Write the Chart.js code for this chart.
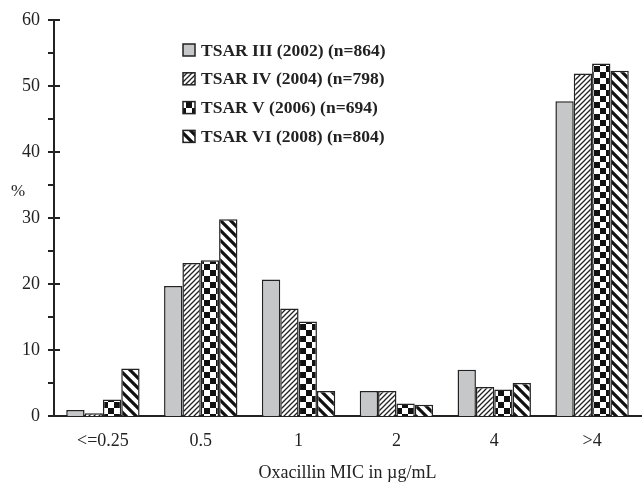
<!DOCTYPE html>
<html>
<head>
<meta charset="utf-8">
<script src="https://cdn.jsdelivr.net/npm/chart.js@4.4.0/dist/chart.umd.min.js"></script>
<style>
  html, body { margin: 0; padding: 0; background: #fff; }
  #wrap { width: 644px; height: 485px; }
</style>
</head>
<body>
<div id="wrap"><canvas id="myChart" width="644" height="485"></canvas></div>
<script>
// MIC categories and % of isolates per survey
const micLabels = ['<=0.25', '0.5', '1', '2', '4', '>4'];
const tsar3 = [0.9, 19.7, 20.7, 3.8, 7.0, 47.7];
const tsar4 = [0.4, 23.2, 16.3, 3.8, 4.4, 51.9];
const tsar5 = [2.5, 23.6, 14.3, 1.9, 4.0, 53.4];
const tsar6 = [7.2, 29.8, 3.8, 1.7, 5.0, 52.3];
const seriesNames = ['TSAR III (2002) (n=864)', 'TSAR IV (2004) (n=798)', 'TSAR V (2006) (n=694)', 'TSAR VI (2008) (n=804)'];

const serif = "'Liberation Serif', 'DejaVu Serif', serif";
const ink = '#222';

function makePattern(kind) {
    const c = document.createElement('canvas');
    const x = c.getContext('2d');
    if (kind === 'fine') {
        c.width = 5; c.height = 5;
        x.fillStyle = '#fff'; x.fillRect(0, 0, 5, 5);
        x.strokeStyle = ink; x.lineWidth = 1.3;
        x.beginPath();
        x.moveTo(-1, 6); x.lineTo(6, -1);
        x.moveTo(-1, 1); x.lineTo(1, -1);
        x.moveTo(4, 6); x.lineTo(6, 4);
        x.stroke();
    } else if (kind === 'check') {
        c.width = 12; c.height = 12;
        x.fillStyle = '#fff'; x.fillRect(0, 0, 12, 12);
        x.fillStyle = '#111';
        x.fillRect(0, 0, 6, 6); x.fillRect(6, 6, 6, 6);
    } else if (kind === 'wide') {
        c.width = 10; c.height = 10;
        x.fillStyle = '#fff'; x.fillRect(0, 0, 10, 10);
        x.strokeStyle = '#111'; x.lineWidth = 3.2;
        x.beginPath();
        x.moveTo(-2, -2); x.lineTo(12, 12);
        x.moveTo(-2, 8); x.lineTo(2, 12);
        x.moveTo(8, -2); x.lineTo(12, 2);
        x.stroke();
    }
    return x.createPattern(c, 'repeat');
}

const fills = ['#c6c7c9', makePattern('fine'), makePattern('check'), makePattern('wide')];
const seriesData = [tsar3, tsar4, tsar5, tsar6];

const datasets = seriesData.map((d, i) => ({
    label: seriesNames[i],
    data: d,
    backgroundColor: fills[i],
    borderColor: ink,
    borderWidth: 1.5,
    categoryPercentage: 0.75,
    barPercentage: 1.0
}));

// tick marks crossing the y axis, "%" label and inset legend
const decor = {
    id: 'decor',
    afterDraw(chart) {
        const ctx = chart.ctx;
        const y = chart.scales.y;
        const ax = chart.chartArea.left;
        ctx.save();
        ctx.strokeStyle = ink;
        ctx.lineWidth = 2;
        for (let v = 0; v <= 60; v += 5) {
            const py = y.getPixelForValue(v);
            ctx.beginPath();
            ctx.moveTo(ax - 6, py);
            ctx.lineTo(v % 10 === 0 ? ax + 6 : ax, py);
            ctx.stroke();
        }
        ctx.fillStyle = ink;
        ctx.font = '17px ' + serif;
        ctx.textAlign = 'center';
        ctx.textBaseline = 'middle';
        ctx.fillText('%', 18, 192);

        ctx.font = 'bold 17.5px ' + serif;
        ctx.textAlign = 'left';
        chart.data.datasets.forEach((ds, i) => {
            const ly = 50 + i * 28.8;
            ctx.fillStyle = ds.backgroundColor;
            ctx.fillRect(183, ly - 6, 12, 12);
            ctx.lineWidth = 1.5;
            ctx.strokeStyle = ink;
            ctx.strokeRect(183, ly - 6, 12, 12);
            ctx.fillStyle = ink;
            ctx.fillText(ds.label, 201, ly + 1);
        });
        ctx.restore();
    }
};

const myChart = new Chart(document.getElementById('myChart').getContext('2d'), {
    type: 'bar',
    data: { labels: micLabels, datasets: datasets },
    options: {
        responsive: false,
        animation: false,
        layout: { padding: { top: 20, right: 3, left: 0, bottom: 0 } },
        plugins: { legend: { display: false }, tooltip: { enabled: false } },
        scales: {
            x: {
                afterFit: s => { s.height = 69; },
                grid: { display: false, drawTicks: false },
                border: { display: true, color: ink, width: 2 },
                ticks: { color: ink, font: { family: serif, size: 18 }, padding: 14 },
                title: { display: true, text: 'Oxacillin MIC in µg/mL', color: ink,
                         font: { family: serif, size: 18 }, padding: { top: 0, bottom: 1 } }
            },
            y: {
                min: 0, max: 60,
                afterFit: s => { s.width = 54; s.paddingTop = 0; },
                grid: { display: false, drawTicks: false },
                border: { display: true, color: ink, width: 2 },
                ticks: { stepSize: 10, color: ink, font: { family: serif, size: 18, lineHeight: 1 }, padding: 14 }
            }
        }
    },
    plugins: [decor]
});
</script>
</body>
</html>
